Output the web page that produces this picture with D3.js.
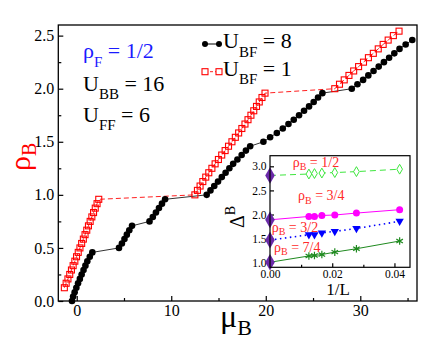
<!DOCTYPE html>
<html><head><meta charset="utf-8">
<script src="https://cdn.jsdelivr.net/npm/d3@7"></script>
<style>
body{margin:0;background:#fff}
svg{display:block}
svg text{font-family:"Liberation Serif","DejaVu Serif","Noto Serif",Tinos,"Times New Roman",serif !important}
</style>
</head><body><div id="chart"></div>
<script>
// main panel: rho_B vs mu_B (L = 24)
const rhoBF8 = [0,0.042,0.083,0.125,0.167,0.208,0.25,0.292,0.333,0.375,0.417,0.458,
  0.5,0.542,0.583,0.625,0.667,0.708, 0.75,0.792,0.833,0.875,0.917,0.958,
  1.0,1.042,1.083,1.125,1.167,1.208,1.25,1.292,1.333,1.375,1.417,1.458,
  1.5,1.542,1.583,1.625,1.667,1.708,1.75,1.792,1.833,1.875,1.917,1.958,
  2.0,2.042,2.083,2.125,2.167,2.208,2.25,2.292,2.333,2.375,2.417,2.458];
const muBF8 = [-0.50,-0.38,-0.22,-0.04,0.14,0.33,0.52,0.72,0.92,1.12,1.38,1.65,
  4.47,4.78,5.05,5.30,5.56,5.85, 7.70,8.05,8.38,8.70,9.02,9.35,
  13.75,14.15,14.55,14.95,15.35,15.75,16.15,16.55,17.00,17.45,17.90,18.35,
  19.75,20.46,21.17,21.80,22.40,22.96,23.52,24.05,24.58,25.07,25.53,25.99,
  29.10,29.70,30.30,30.85,31.40,31.95,32.50,33.05,33.60,34.15,34.80,35.50];
const rhoBF1 = [0.125,0.167,0.208,0.25,0.292,0.333,0.375,0.417,0.458,0.5,0.542,0.583,0.625,0.667,0.708,0.75,0.792,0.833,0.875,0.917,0.958,
  1.0,1.042,1.083,1.125,1.167,1.208,1.25,1.292,1.333,1.375,1.417,1.458,1.5,1.542,1.583,1.625,1.667,1.708,1.75,1.792,1.833,1.875,1.917,1.958,
  2.0,2.042,2.083,2.125,2.167,2.208,2.25,2.292,2.333,2.375,2.417,2.458,2.5,2.542];
const muBF1 = [-1.31,-1.12,-0.93,-0.74,-0.56,-0.38,-0.20,-0.02,0.16,0.34,0.52,0.70,0.88,1.06,1.24,1.42,1.60,1.78,1.96,2.15,2.33,
  12.50,12.77,13.05,13.34,13.65,13.97,14.30,14.64,14.99,15.34,15.70,16.06,16.42,16.78,17.13,17.47,17.80,18.12,18.43,18.73,19.02,19.31,19.60,19.92,
  27.30,27.80,28.30,28.80,29.30,29.82,30.34,30.86,31.38,31.90,32.42,32.95,33.50,34.10];
const xTicks = [0,10,20,30], xMinor = [5,15,25,35];
const yTicks = [0,0.5,1,1.5,2,2.5], yMinor = [0.25,0.75,1.25,1.75,2.25];

// inset: gap Delta_B vs 1/L
const invL = [0.0125,0.01429,0.01667,0.02083,0.02778,0.04167];
const gapHalf = [2.84,2.85,2.86,2.87,2.89,2.94];
const gapThreeQ = [1.96,1.96,1.98,1.99,2.03,2.10];
const gapThreeH = [1.58,1.58,1.62,1.65,1.71,1.86];
const gapSevenQ = [1.14,1.15,1.17,1.22,1.29,1.45];
const gapExtrap = [2.81,1.89,1.47,1.01];
const insetLabels = ['1/2','3/4','3/2','7/4'];
const inXTicks = [0,0.02,0.04], inXMinor = [0.01,0.03];
const inYTicks = [1,1.5,2,2.5,3];

const W=431, H=345;
const FONT='"Liberation Serif","DejaVu Serif","Noto Serif",Tinos,serif';
const svg=d3.select('#chart').append('svg').attr('width',W).attr('height',H).attr('font-family',FONT);

const xSc=d3.scaleLinear().domain([-1.95,36]).range([58.3,417]);
const ySc=d3.scaleLinear().domain([0,2.6]).range([301,25]);

function axisStyle(g){ g.attr('font-family',FONT); g.select('.domain').remove(); g.selectAll('line').attr('stroke','#000').attr('stroke-width',1.2); }

svg.append('g').attr('transform','translate(0,301)')
  .call(d3.axisBottom(xSc).tickValues(xTicks).tickSizeInner(-5).tickSizeOuter(0).tickPadding(4).tickFormat(d3.format('d')))
  .call(axisStyle).call(g=>g.selectAll('text').style('font-size','16px').attr('fill','#000'));
svg.append('g').attr('transform','translate(0,301)')
  .call(d3.axisBottom(xSc).tickValues(xMinor).tickSizeInner(-3).tickSizeOuter(0).tickFormat(''))
  .call(axisStyle);
svg.append('g').attr('transform','translate(58.3,0)')
  .call(d3.axisLeft(ySc).tickValues(yTicks).tickSizeInner(-5).tickSizeOuter(0).tickPadding(4).tickFormat(d3.format('.1f')))
  .call(axisStyle).call(g=>g.selectAll('text').style('font-size','16px').attr('fill','#000'));
svg.append('g').attr('transform','translate(58.3,0)')
  .call(d3.axisLeft(ySc).tickValues(yMinor).tickSizeInner(-3).tickSizeOuter(0).tickFormat(''))
  .call(axisStyle);

svg.append('rect').attr('x',58.3).attr('y',25).attr('width',417-58.3).attr('height',276)
  .attr('fill','none').attr('stroke','#000').attr('stroke-width',1.3);

// curves
const ptsBF8 = muBF8.map((m,i)=>[m,rhoBF8[i]]);
const ptsBF1 = muBF1.map((m,i)=>[m,rhoBF1[i]]);
const line = d3.line().x(d=>xSc(d[0])).y(d=>ySc(d[1]));

svg.append('path').attr('d',line(ptsBF1)).attr('fill','none').attr('stroke','#ff2020')
  .attr('stroke-width',1).attr('stroke-dasharray','5,3');
svg.append('path').attr('d',line(ptsBF8)).attr('fill','none').attr('stroke','#333').attr('stroke-width',1);

svg.selectAll('.sq').data(ptsBF1).join('rect').attr('class','sq')
  .attr('x',d=>xSc(d[0])-3).attr('y',d=>ySc(d[1])-3).attr('width',6).attr('height',6)
  .attr('fill','none').attr('stroke','#ff0000').attr('stroke-width',1.1);
svg.selectAll('.dot').data(ptsBF8).join('circle').attr('class','dot')
  .attr('cx',d=>xSc(d[0])).attr('cy',d=>ySc(d[1])).attr('r',3.3).attr('fill','#000');

// legend
const lg=svg.append('g');
lg.append('line').attr('x1',205).attr('x2',219).attr('y1',44).attr('y2',44).attr('stroke','#000');
[205,219].forEach(x=>lg.append('circle').attr('cx',x).attr('cy',44).attr('r',3).attr('fill','#000'));
lg.append('line').attr('x1',205).attr('x2',219).attr('y1',71.7).attr('y2',71.7).attr('stroke','#ff2020').attr('stroke-dasharray','3,2');
[205,219].forEach(x=>lg.append('rect').attr('x',x-3).attr('y',68.7).attr('width',6).attr('height',6).attr('fill','#fff').attr('stroke','#ff0000').attr('stroke-width',1.1));

function subText(x,y,main,sub,rest,size,subSize,shift,fill){
  const t=svg.append('text').attr('x',x).attr('y',y).style('font-size',size+'px').attr('fill',fill);
  t.append('tspan').text(main);
  t.append('tspan').attr('dy',shift).style('font-size',subSize+'px').text(sub);
  t.append('tspan').attr('dy',-shift).text(rest);
  return t;
}
subText(223,48.3,'U','BF',' = 8',22,15,8.4,'#000');
subText(223,75.7,'U','BF',' = 1',22,15,8.4,'#000');
subText(83,58.3,'ρ','F',' = 1/2',22,15,8.4,'#1a1aff');
subText(83,90.7,'U','BB',' = 16',22,15,8.6,'#000');
subText(83,121.7,'U','FF',' = 6',22,15,8.6,'#000');

// axis titles
const yl=svg.append('text').attr('transform','translate(30,171) rotate(-90)').attr('fill','#ff0000').style('font-size','30px');
yl.append('tspan').text('ρ');
yl.append('tspan').attr('dy',6).style('font-size','20px').text('B');
const xl=svg.append('text').attr('x',220).attr('y',327).attr('fill','#000').style('font-size','32px');
xl.append('tspan').text('μ');
xl.append('tspan').attr('dy',8).style('font-size','22px').text('B');

// inset
const ix=d3.scaleLinear().domain([0,0.045]).range([270,410]);
const iy=d3.scaleLinear().domain([0.905,3.22]).range([267.3,155.7]);
const ins=svg.append('g');
ins.append('rect').attr('x',270).attr('y',155.7).attr('width',140).attr('height',111.6).attr('fill','#fff');
ins.append('g').attr('transform','translate(0,267.3)')
  .call(d3.axisBottom(ix).tickValues(inXTicks).tickSizeInner(-4).tickSizeOuter(0).tickPadding(3).tickFormat(d3.format('.2f')))
  .call(axisStyle).call(g=>g.selectAll('text').style('font-size','11.5px').attr('fill','#000'));
ins.append('g').attr('transform','translate(0,267.3)')
  .call(d3.axisBottom(ix).tickValues(inXMinor).tickSizeInner(-2.5).tickSizeOuter(0).tickFormat(''))
  .call(axisStyle);
ins.append('g').attr('transform','translate(270,0)')
  .call(d3.axisLeft(iy).tickValues(inYTicks).tickSizeInner(-4).tickSizeOuter(0).tickPadding(3.5).tickFormat(d3.format('.1f')))
  .call(axisStyle).call(g=>g.selectAll('text').style('font-size','11.5px').attr('fill','#000'));

const ser=[
  {v:gapHalf,c:'#3ee63e',dash:'6,4',w:1},
  {v:gapThreeQ,c:'#ff00ff',dash:null,w:1},
  {v:gapThreeH,c:'#0000ff',dash:'1.5,3.5',w:1.6},
  {v:gapSevenQ,c:'#1f8a1f',dash:null,w:1}
];
const iline=d3.line().x(d=>ix(d[0])).y(d=>iy(d[1]));
ser.forEach((s,k)=>{
  const pts=[[0,gapExtrap[k]]].concat(invL.map((x,i)=>[x,s.v[i]]));
  ins.append('path').attr('d',iline(pts)).attr('fill','none').attr('stroke',s.c).attr('stroke-width',s.w)
    .attr('stroke-dasharray',s.dash);
});
const pt=(k)=>invL.map((x,i)=>[x,ser[k].v[i]]);
ins.selectAll('.gd').data(pt(0)).join('path').attr('class','gd')
  .attr('transform',d=>`translate(${ix(d[0])},${iy(d[1])})`)
  .attr('d',d3.symbol(d3.symbolDiamond,28)).attr('fill','#fff').attr('stroke','#3ee63e').attr('stroke-width',1);
ins.selectAll('.mc').data(pt(1)).join('circle').attr('class','mc')
  .attr('cx',d=>ix(d[0])).attr('cy',d=>iy(d[1])).attr('r',3.5).attr('fill','#ff00ff');
ins.selectAll('.bt').data(pt(2)).join('path').attr('class','bt')
  .attr('transform',d=>`translate(${ix(d[0])},${iy(d[1])}) rotate(180)`)
  .attr('d',d3.symbol(d3.symbolTriangle,30)).attr('fill','#0000ff');
ins.selectAll('.gs').data(pt(3)).join('path').attr('class','gs')
  .attr('transform',d=>`translate(${ix(d[0])},${iy(d[1])})`)
  .attr('d',d3.symbol(d3.symbolAsterisk,40)).attr('fill','none').attr('stroke','#1f8a1f').attr('stroke-width',1.2);
ins.selectAll('.ex').data(gapExtrap).join('path').attr('class','ex')
  .attr('transform',d=>`translate(${ix(0)},${iy(d)})`)
  .attr('d',d3.symbol(d3.symbolDiamond,80)).attr('fill','#6a2aa8');

ins.append('rect').attr('x',270).attr('y',155.7).attr('width',140).attr('height',111.6)
  .attr('fill','none').attr('stroke','#000').attr('stroke-width',1.2);

const labPos=[[292.7,166.5],[298,200],[271.7,231.7],[274,251.7]];
insetLabels.forEach((l,k)=>subText(labPos[k][0],labPos[k][1],'ρ','B',' = '+l,14,10,3.5,'#ff2a2a'));

svg.append('text').attr('x',338).attr('y',295).attr('text-anchor','middle').style('font-size','17px').attr('fill','#000').text('1/L');
const dl=svg.append('text').attr('transform','translate(243.5,228) rotate(-90)').attr('fill','#000').style('font-size','20px');
dl.append('tspan').text('Δ');
dl.append('tspan').attr('dy',-9).style('font-size','14px').text('B');
</script>
</body></html>
